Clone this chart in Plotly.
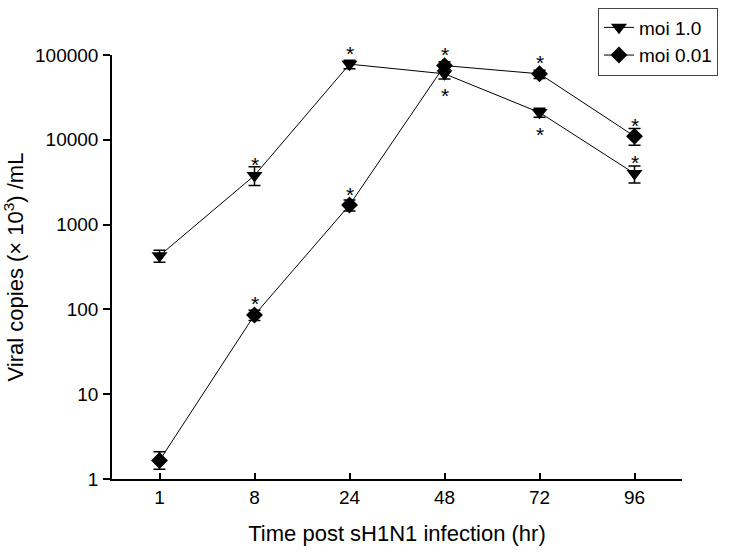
import numpy as np
import plotly.graph_objects as go

hours = ["1", "8", "24", "48", "72", "96"]
moi1_vals = [430, 3800, 78000, 60000, 21000, 4000]
moi1_err_plus = [70, 1000, 9000, 8000, 2500, 900]
moi1_err_minus = [70, 900, 9000, 8000, 2500, 900]
moi1_star = ["", "above", "above", "below", "below", "above"]

moi001_vals = [1.65, 86, 1700, 75000, 60000, 11000]
moi001_err_plus = [0.45, 12, 250, 8000, 6000, 2600]
moi001_err_minus = [0.35, 12, 250, 8000, 7000, 2400]
moi001_star = ["", "above", "above", "above", "above", "above"]

FONT = "Arial, 'Liberation Sans', sans-serif"

fig = go.Figure()
fig.add_trace(go.Scatter(
    x=hours, y=moi1_vals, name="moi 1.0", mode="lines+markers",
    line=dict(color="black", width=1),
    marker=dict(symbol="triangle-down", size=14, color="black"),
    error_y=dict(type="data", array=moi1_err_plus, arrayminus=moi1_err_minus,
                 color="black", thickness=1.5, width=6),
))
fig.add_trace(go.Scatter(
    x=hours, y=moi001_vals, name="moi 0.01", mode="lines+markers",
    line=dict(color="black", width=1),
    marker=dict(symbol="diamond", size=13, color="black"),
    error_y=dict(type="data", array=moi001_err_plus, arrayminus=moi001_err_minus,
                 color="black", thickness=1.5, width=6),
))

# significance asterisks (x given as category index)
for vals, stars in [(moi1_vals, moi1_star), (moi001_vals, moi001_star)]:
    for i, (v, s) in enumerate(zip(vals, stars)):
        if not s:
            continue
        fig.add_annotation(
            x=i, y=np.log10(v), xref="x", yref="y", text="*", showarrow=False,
            font=dict(family=FONT, size=21, color="black"),
            yshift=11 if s == "above" else -22,
        )

fig.update_layout(
    width=740, height=555,
    margin=dict(l=112, r=58, t=55, b=76, autoexpand=False),
    paper_bgcolor="white", plot_bgcolor="white",
    font=dict(family=FONT, size=19, color="black"),
    showlegend=True,
    legend=dict(
        x=0.8526, y=1.112, xanchor="left", yanchor="top",
        bordercolor="#444444", borderwidth=1, bgcolor="white",
        font=dict(family=FONT, size=19, color="black"),
        tracegroupgap=0,
    ),
)
fig.update_xaxes(
    type="category", range=[-0.5, 5.5],
    showline=True, linecolor="black", linewidth=1.5,
    ticks="inside", ticklen=6, tickwidth=1.5, tickcolor="black",
    showgrid=False, zeroline=False,
    tickfont=dict(family=FONT, size=19),
    title=dict(text="Time post sH1N1 infection (hr)", font=dict(family=FONT, size=22), standoff=19),
)
fig.update_yaxes(
    type="log", range=[0, 5],
    tickvals=[1, 10, 100, 1000, 10000, 100000],
    ticktext=["1", "10", "100", "1000", "10000", "100000"],
    showline=True, linecolor="black", linewidth=1.5,
    ticks="outside", ticklen=7, tickwidth=1.5, tickcolor="black",
    ticklabelstandoff=1,
    showgrid=False, zeroline=False,
    tickfont=dict(family=FONT, size=19),
    title=dict(text="Viral copies (× 10<sup>3</sup>) /mL", font=dict(family=FONT, size=22), standoff=5),
)

fig.write_html("out.html", config={"displayModeBar": False},
               post_script="document.body.style.margin='0';document.body.style.padding='0';")
